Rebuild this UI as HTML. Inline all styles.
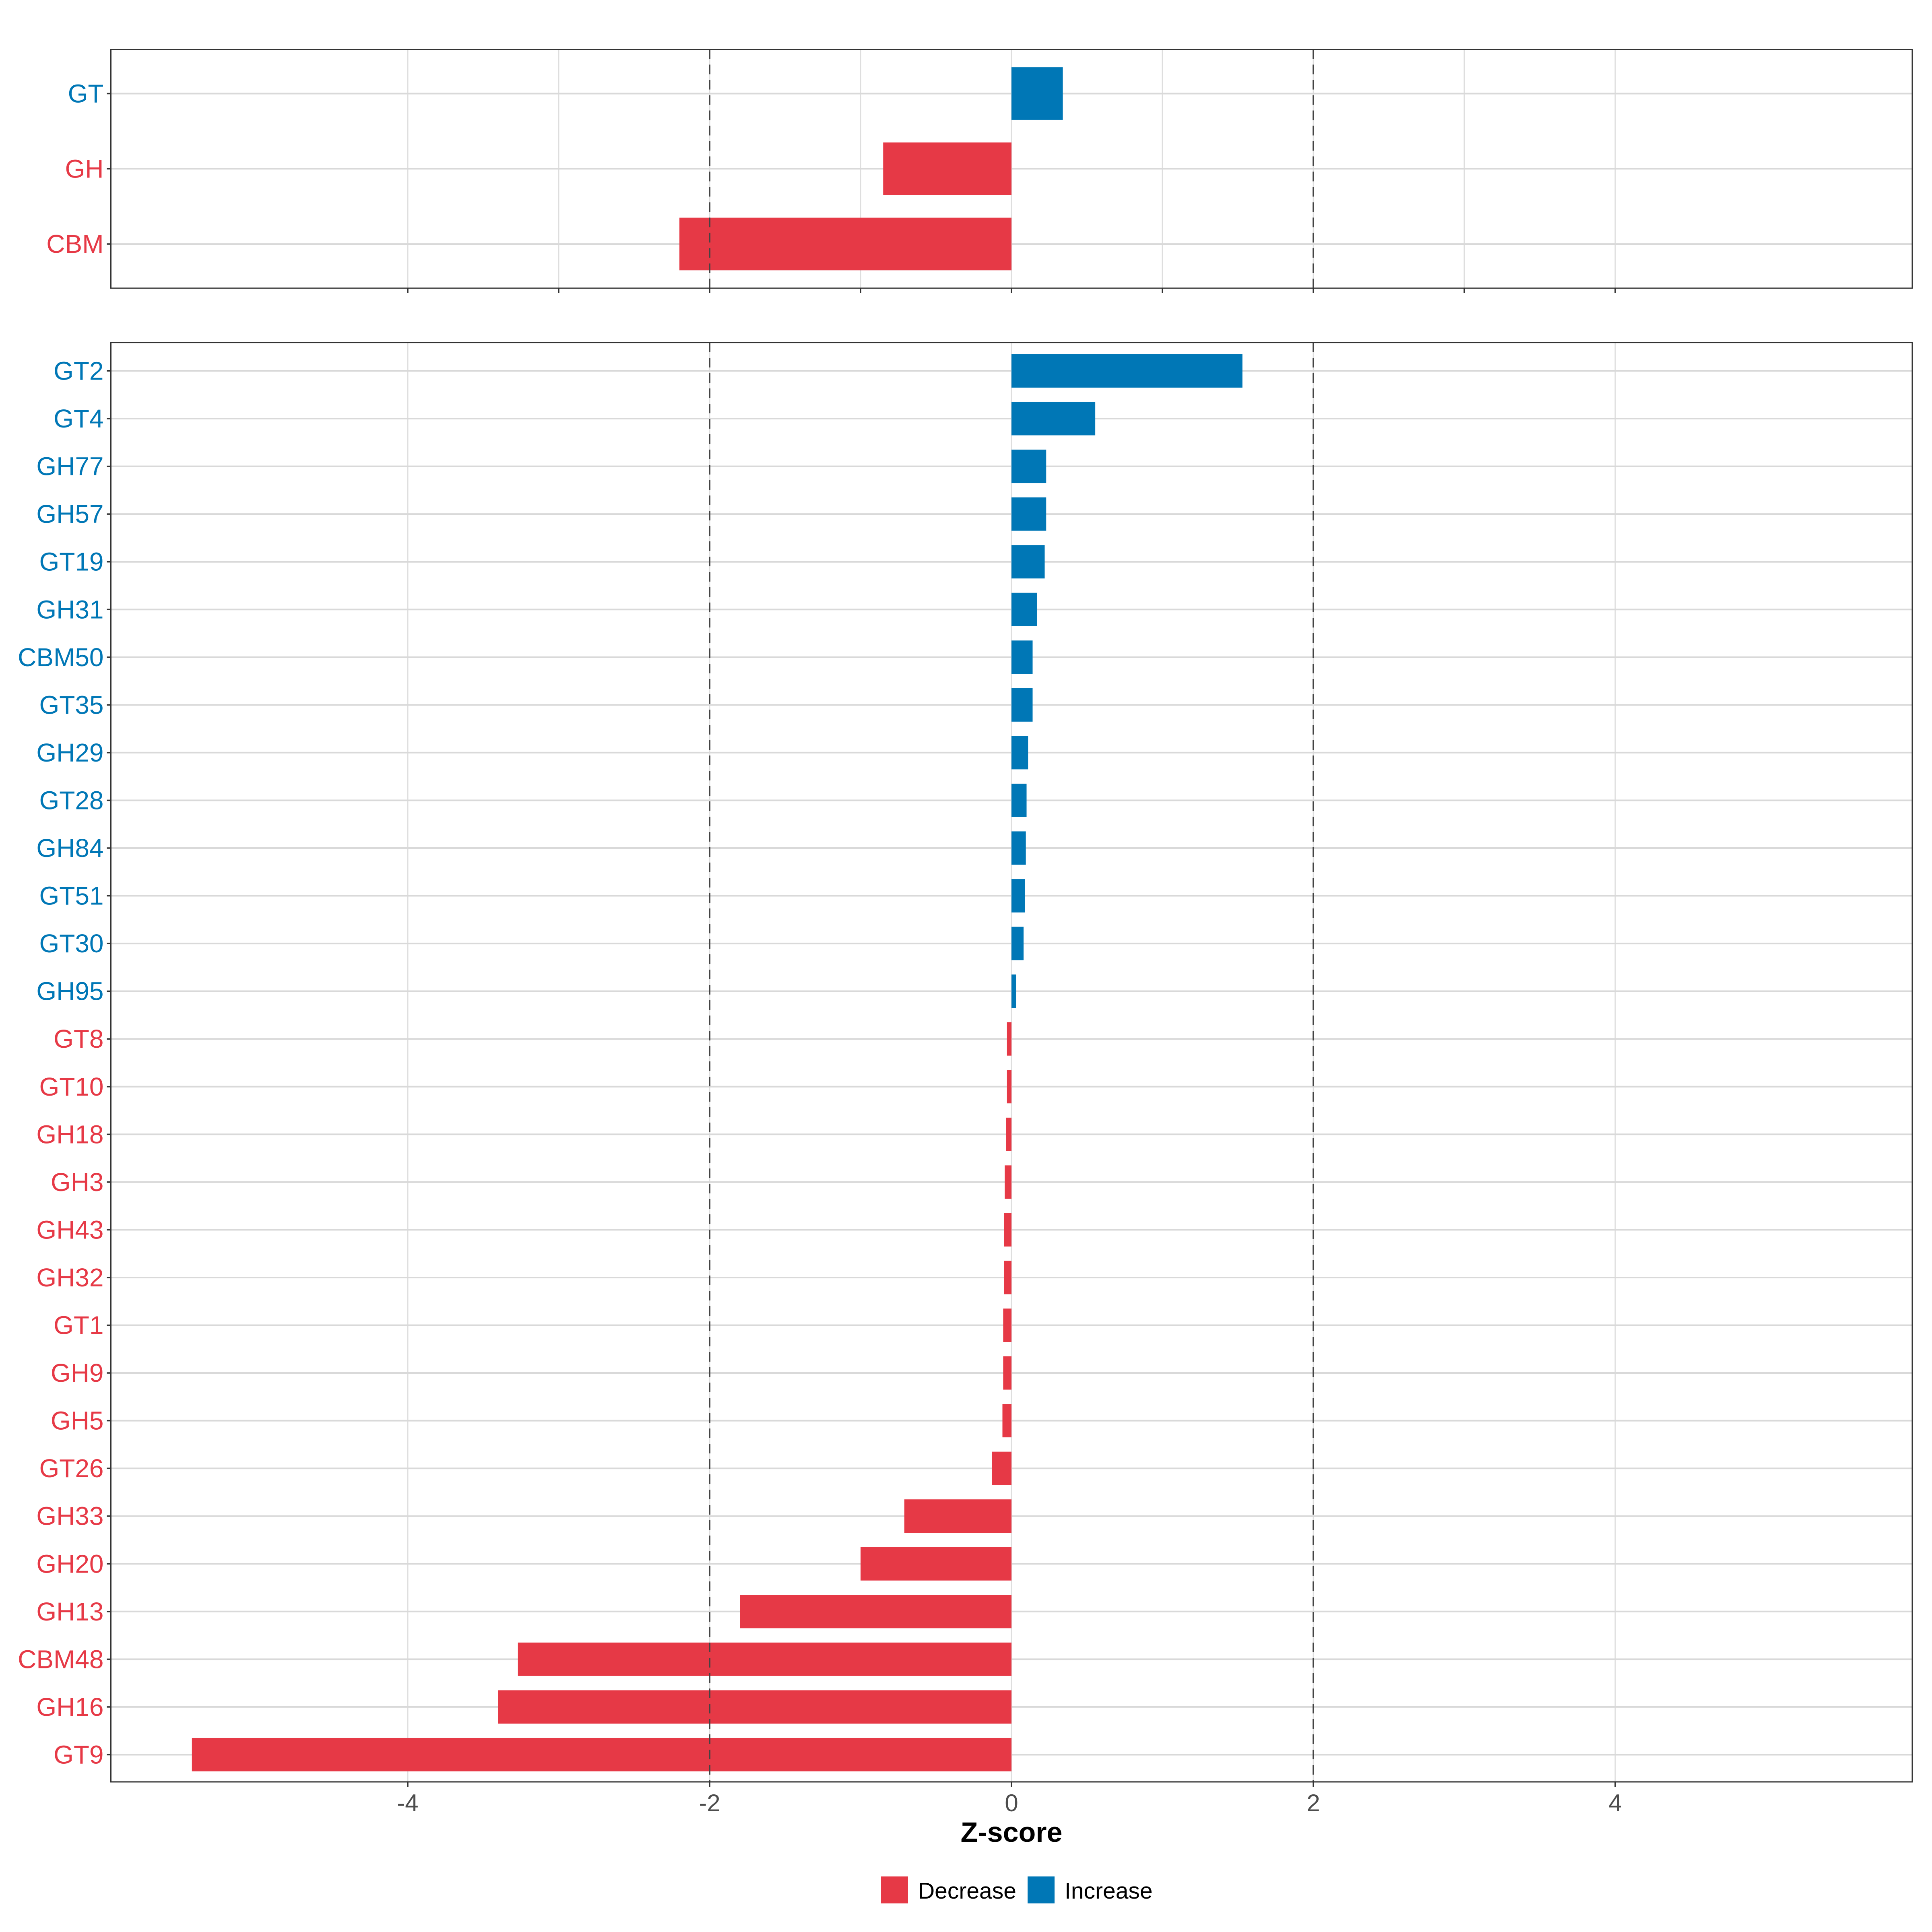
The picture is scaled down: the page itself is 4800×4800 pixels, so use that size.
<!DOCTYPE html>
<html><head><meta charset="utf-8"><style>
html,body{margin:0;padding:0;background:#fff}
svg{display:block;font-family:"Liberation Sans",Arial,sans-serif}
</style></head><body>
<svg id="chart" width="4800" height="4800" viewBox="0 0 4800 4800" xmlns="http://www.w3.org/2000/svg"></svg>
<script>
const topCats = ["GT","GH","CBM"];
const topVals = [0.34,-0.85,-2.2];
const botCats = ["GT2","GT4","GH77","GH57","GT19","GH31","CBM50","GT35","GH29","GT28","GH84","GT51","GT30","GH95","GT8","GT10","GH18","GH3","GH43","GH32","GT1","GH9","GH5","GT26","GH33","GH20","GH13","CBM48","GH16","GT9"];
const botVals = [1.53,0.555,0.23,0.23,0.22,0.17,0.14,0.14,0.11,0.10,0.095,0.09,0.08,0.03,-0.03,-0.03,-0.035,-0.045,-0.05,-0.05,-0.055,-0.055,-0.06,-0.13,-0.71,-1.0,-1.8,-3.27,-3.4,-5.43];
const xTicks = [-4,-2,0,2,4];
const xTickLabels = ["-4","-2","0","2","4"];
const refLines = [-2,2];

const NS="http://www.w3.org/2000/svg";
const svg=document.getElementById('chart');
const RED="#e63946", BLUE="#0077b6";
const L=275.5, R=4751, X0=2513, U=375;
const xs=v=>X0+v*U;
function mk(tag,attrs,parent){const e=document.createElementNS(NS,tag);for(const k in attrs)e.setAttribute(k,attrs[k]);(parent||svg).appendChild(e);return e;}

function panel(name,top,bottom,cats,vals,firstY,step,minor){
  const g=mk('g',{});
  
  
  mk('rect',{x:L,y:top,width:R-L,height:bottom-top,fill:'#fff'},g);
  const gx = minor ? [-4,-3,-2,-1,0,1,2,3,4] : xTicks;
  gx.forEach(v=>{const l=mk('line',{x1:xs(v),x2:xs(v),y1:top,y2:bottom,stroke:'#dedede','stroke-width':3},g);
    
    });
  cats.forEach((c,i)=>{
    const y=firstY+i*step;
    const gl=mk('line',{x1:L,x2:R,y1:y,y2:y,stroke:'#d9d9d9','stroke-width':4},g);
    
    
    const v=vals[i], h=step*0.7;
    const b=mk('rect',{x:Math.min(xs(0),xs(v)),y:y-h/2,width:Math.abs(xs(v)-xs(0)),height:h,fill:v>=0?BLUE:RED},g);
    
    
    const tk=mk('line',{x1:L-10,x2:L,y1:y,y2:y,stroke:'#333','stroke-width':3.5},g);
    
    
    const t=mk('text',{x:L-18,y:y+22,'text-anchor':'end','font-size':64,fill:v>=0?BLUE:RED},g);
    t.textContent=c;
    
    
  });
  refLines.forEach(v=>{const l=mk('line',{x1:xs(v),x2:xs(v),y1:top,y2:bottom,stroke:'#444','stroke-width':4,'stroke-dasharray':'24,14'},g);
    
    });
  mk('rect',{x:L,y:top,width:R-L,height:bottom-top,fill:'none',stroke:'#333','stroke-width':3},g);
  gx.forEach(v=>{const l=mk('line',{x1:xs(v),x2:xs(v),y1:bottom,y2:bottom+12,stroke:'#333','stroke-width':3.5},g);
    
    });
}
panel('top-panel',122.5,716,topCats,topVals,232.5,186.8,true);
panel('bottom-panel',851,4427,botCats,botVals,921.5,118.55,false);

xTicks.forEach((v,i)=>{const t=mk('text',{x:xs(v),y:4500,'text-anchor':'middle','font-size':60,fill:'#4d4d4d'});
  t.textContent=xTickLabels[i];
  
  });
const xt=mk('text',{x:X0,y:4576,'text-anchor':'middle','font-size':70,'font-weight':'bold',fill:'#000'});
xt.textContent='Z-score';



const lg=mk('g',{});


[["Decrease",RED,2189,2281],["Increase",BLUE,2553,2645]].forEach(([lab,col,kx,tx])=>{
  const k=mk('rect',{x:kx,y:4662,width:67,height:67,fill:col},lg);
  
  
  const t=mk('text',{x:tx,y:4717,'font-size':57,fill:'#000'},lg);
  t.textContent=lab;
  
  
});
</script>
</body></html>
